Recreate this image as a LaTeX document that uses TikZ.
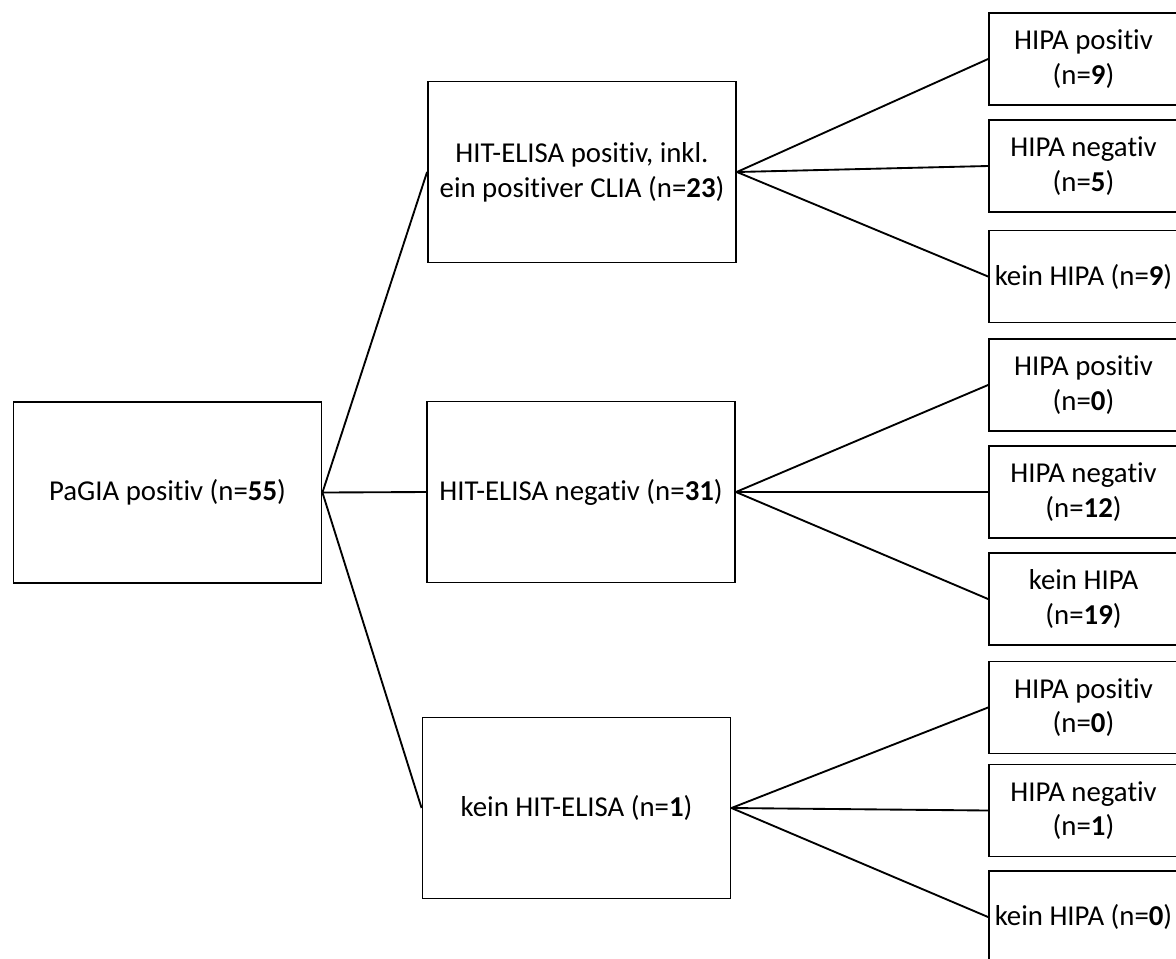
\documentclass[tikz,border=0pt]{standalone}
\usepackage{fontspec}
\setmainfont{Carlito}[Ligatures=NoCommon]
\begin{document}
\begin{tikzpicture}[x=0.75pt,y=-0.75pt,
  box/.style={draw, line width=1.4pt, rectangle, align=center, inner sep=0pt,
    font=\fontsize{21.6}{26}\selectfont},
  bigbox/.style={box, minimum width=231pt, minimum height=135.75pt},
  smallbox/.style={box, minimum width=141.75pt, minimum height=69pt},
  conn/.style={line width=1.4pt}]
\useasboundingbox (0,0) rectangle (1176,958);
\node[bigbox] (A) at (167.5,492.5) {PaGIA positiv (n=\textbf{55})};
\node[bigbox] (B1) at (582,172) {HIT-ELISA positiv, inkl.\\ein positiver CLIA (n=\textbf{23})};
\node[bigbox] (B2) at (581,492) {HIT-ELISA negativ (n=\textbf{31})};
\node[bigbox] (B3) at (576.5,808) {kein HIT-ELISA (n=\textbf{1})};
\node[smallbox] (R1) at (1083.5,59) {HIPA positiv\\(n=\textbf{9})};
\node[smallbox] (R2) at (1083.5,166) {HIPA negativ\\(n=\textbf{5})};
\node[smallbox] (R3) at (1083.5,276.5) {kein HIPA (n=\textbf{9})};
\node[smallbox] (R4) at (1083.5,385) {HIPA positiv\\(n=\textbf{0})};
\node[smallbox] (R5) at (1083.5,492) {HIPA negativ\\(n=\textbf{12})};
\node[smallbox] (R6) at (1083.5,599) {kein HIPA\\(n=\textbf{19})};
\node[smallbox] (R7) at (1083.5,707.5) {HIPA positiv\\(n=\textbf{0})};
\node[smallbox] (R8) at (1083.5,810.5) {HIPA negativ\\(n=\textbf{1})};
\node[smallbox] (R9) at (1083.5,917) {kein HIPA (n=\textbf{0})};
\draw[conn] (A.east) -- (B1.west);
\draw[conn] (A.east) -- (B2.west);
\draw[conn] (A.east) -- (B3.west);
\draw[conn] (B1.east) -- (R1.west);
\draw[conn] (B1.east) -- (R2.west);
\draw[conn] (B1.east) -- (R3.west);
\draw[conn] (B2.east) -- (R4.west);
\draw[conn] (B2.east) -- (R5.west);
\draw[conn] (B2.east) -- (R6.west);
\draw[conn] (B3.east) -- (R7.west);
\draw[conn] (B3.east) -- (R8.west);
\draw[conn] (B3.east) -- (R9.west);
\end{tikzpicture}
\end{document}
